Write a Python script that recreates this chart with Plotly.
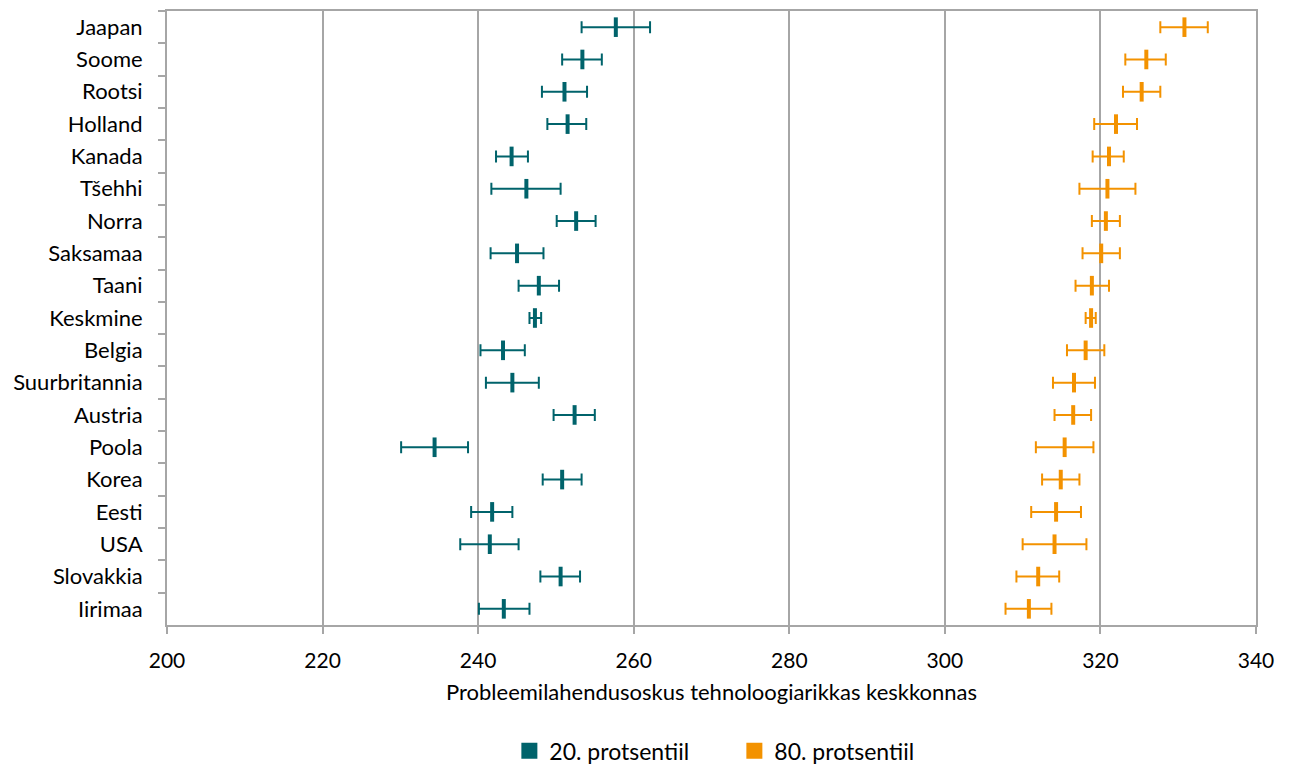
import plotly.graph_objects as go

countries = ["Jaapan", "Soome", "Rootsi", "Holland", "Kanada", "Tšehhi", "Norra", "Saksamaa",
             "Taani", "Keskmine", "Belgia", "Suurbritannia", "Austria", "Poola", "Korea",
             "Eesti", "USA", "Slovakkia", "Iirimaa"]

p20_mean = [257.7, 253.4, 251.1, 251.5, 244.3, 246.2, 252.6, 245.0, 247.8, 247.3, 243.2, 244.4,
            252.4, 234.4, 250.8, 241.8, 241.5, 250.6, 243.3]
p20_low = [253.3, 250.8, 248.2, 248.9, 242.3, 241.7, 250.1, 241.6, 245.2, 246.6, 240.3, 241.0,
           249.7, 230.1, 248.3, 239.1, 237.7, 248.0, 240.1]
p20_high = [262.1, 255.9, 254.0, 253.9, 246.4, 250.6, 255.1, 248.4, 250.4, 248.1, 246.0, 247.8,
            255.0, 238.7, 253.3, 244.4, 245.2, 253.1, 246.6]

p80_mean = [330.8, 325.9, 325.3, 322.0, 321.1, 320.9, 320.7, 320.1, 318.9, 318.8, 318.1, 316.6,
            316.5, 315.4, 314.9, 314.3, 314.1, 312.0, 310.8]
p80_low = [327.7, 323.2, 322.9, 319.2, 319.0, 317.3, 318.9, 317.7, 316.8, 318.1, 315.7, 313.9,
           314.1, 311.7, 312.5, 311.1, 310.0, 309.2, 307.8]
p80_high = [333.8, 328.4, 327.7, 324.7, 323.0, 324.5, 322.5, 322.5, 321.1, 319.4, 320.5, 319.3,
            318.8, 319.1, 317.3, 317.5, 318.2, 314.7, 313.7]

x_ticks = [200, 220, 240, 260, 280, 300, 320, 340]
x_title = "Probleemilahendusoskus tehnoloogiarikkas keskkonnas"
series_names = ["20. protsentiil", "80. protsentiil"]

TEAL = "#00636B"
ORANGE = "#F39200"
GRID = "#A6A6A6"
FONT = "Lato, 'Open Sans', sans-serif"

fig = go.Figure()

for mean, low, high, color, name in [
    (p20_mean, p20_low, p20_high, TEAL, series_names[0]),
    (p80_mean, p80_low, p80_high, ORANGE, series_names[1]),
]:
    plus = [h - m for h, m in zip(high, mean)]
    minus = [m - l for m, l in zip(mean, low)]
    fig.add_trace(go.Scatter(
        x=mean, y=countries, mode="markers", showlegend=False,
        marker=dict(symbol="line-ns-open", size=14, color=color, line=dict(width=4, color=color)),
        error_x=dict(type="data", symmetric=False, array=plus, arrayminus=minus,
                     color=color, thickness=2, width=6),
        hoverinfo="x+y",
    ))
    fig.add_trace(go.Scatter(
        x=[None], y=[None], mode="markers", name=name,
        marker=dict(symbol="square", size=17, color=color),
    ))

fig.update_layout(
    width=1289, height=766,
    paper_bgcolor="white", plot_bgcolor="white",
    margin=dict(l=159, r=41, t=3, b=149, autoexpand=False),
    font=dict(family=FONT, size=22, color="#000000"),
    showlegend=True,
    legend=dict(orientation="h", x=0.521, xanchor="center", y=-0.205, yanchor="middle",
                font=dict(size=23), itemwidth=30, tracegroupgap=0,
                entrywidth=180, entrywidthmode="pixels"),
)

fig.update_xaxes(
    range=[200, 340], tickvals=x_ticks, ticktext=[str(v) for v in x_ticks],
    showgrid=True, gridcolor=GRID, gridwidth=2,
    showline=True, linecolor=GRID, linewidth=2, mirror=True,
    ticks="outside", ticklen=7, tickcolor=GRID, tickwidth=2,
    zeroline=False, tickfont=dict(size=21), ticklabelstandoff=9, automargin=False,
    title=dict(text=x_title, font=dict(size=22), standoff=13),
)

fig.update_yaxes(
    type="category", categoryorder="array", categoryarray=countries,
    range=[len(countries) - 0.5, -0.5],
    showgrid=False, showline=True, linecolor=GRID, linewidth=2, mirror=True,
    ticks="outside", tickson="boundaries", ticklen=7, tickcolor=GRID, tickwidth=2,
    tickfont=dict(size=22), ticklabelstandoff=18, automargin=False,
)

fig.write_html("out.html")
